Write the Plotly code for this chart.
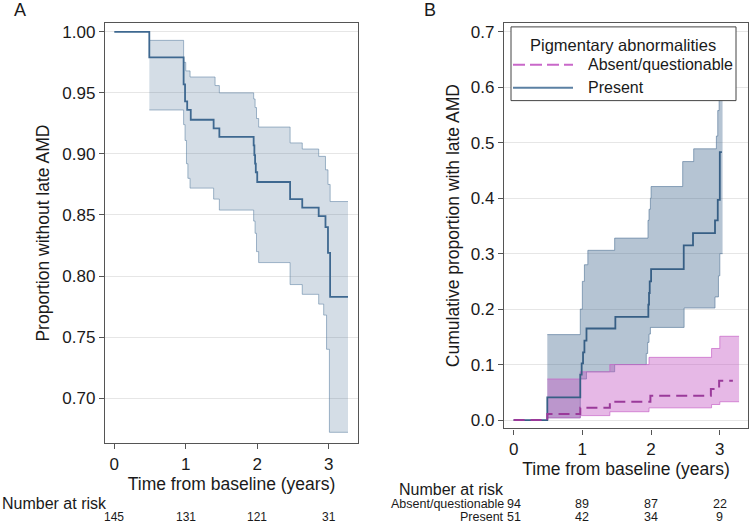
import plotly.graph_objects as go

W, H = 750, 525
FONT = "Arial"

# ---------------- Panel A data: overall Kaplan-Meier survival ----------------
a_time = [0, 0.49, 0.97, 0.99, 1.02, 1.07, 1.39, 1.47, 1.95, 1.96, 1.97, 1.98, 2.0,
          2.46, 2.63, 2.86, 2.955, 2.99, 3.02, 3.27]
a_surv = [1.0, 0.979, 0.957, 0.943, 0.936, 0.928, 0.921, 0.914, 0.907, 0.899, 0.892,
          0.885, 0.877, 0.863, 0.856, 0.849, 0.840, 0.819, 0.783, 0.783]
a_up_time = [0.49, 0.97, 1.0, 1.06, 1.41, 1.47, 1.95, 1.97, 1.99, 2.02, 2.46, 2.63,
             2.86, 2.955, 2.99, 3.02, 3.27]
a_up = [0.993, 0.975, 0.968, 0.963, 0.956, 0.950, 0.945, 0.938, 0.929, 0.922, 0.909,
        0.904, 0.898, 0.887, 0.875, 0.861, 0.861]
a_lo_time = [0.49, 0.97, 0.99, 1.01, 1.03, 1.06, 1.39, 1.47, 1.95, 1.97, 1.99, 2.02,
             2.46, 2.63, 2.86, 2.93, 2.97, 3.01, 3.27]
a_lo = [0.936, 0.924, 0.911, 0.892, 0.880, 0.872, 0.863, 0.854, 0.845, 0.835, 0.820,
        0.811, 0.793, 0.785, 0.777, 0.768, 0.740, 0.672, 0.672]

# ---------------- Panel B data: cumulative incidence by pigmentary abnormalities ----
pres_time = [0, 0.49, 0.97, 0.99, 1.01, 1.03, 1.06, 1.48, 1.96, 1.97, 1.98, 2.0,
             2.475, 2.61, 2.93, 2.97, 3.0, 3.03]
pres_cum = [0, 0.041, 0.082, 0.102, 0.122, 0.143, 0.165, 0.186, 0.208, 0.229, 0.25,
            0.272, 0.315, 0.337, 0.36, 0.397, 0.483, 0.483]
pres_up_time = [0.49, 0.97, 1.0, 1.03, 1.08, 1.47, 1.955, 1.97, 1.99, 2.0, 2.46, 2.62,
                2.95, 2.97, 2.99, 3.0, 3.04]
pres_up = [0.154, 0.2, 0.25, 0.28, 0.306, 0.328, 0.36, 0.38, 0.40, 0.421, 0.466, 0.489,
           0.512, 0.558, 0.58, 0.65, 0.65]
pres_lo_time = [0.49, 0.97, 1.06, 1.47, 1.93, 1.95, 1.97, 1.99, 2.48, 2.93, 2.98, 3.0, 3.04]
pres_lo = [0.004, 0.074, 0.087, 0.1, 0.12, 0.14, 0.155, 0.167, 0.202, 0.222, 0.26, 0.30, 0.30]

abs_time = [0, 0.49, 0.97, 1.4, 1.99, 2.87, 2.99, 3.19]
abs_cum = [0, 0.011, 0.022, 0.033, 0.044, 0.056, 0.071, 0.071]
abs_up_time = [0.49, 0.97, 1.4, 1.97, 2.88, 3.0, 3.28]
abs_up = [0.074, 0.087, 0.1, 0.113, 0.129, 0.151, 0.151]
abs_lo_time = [0.49, 0.97, 1.4, 1.97, 2.88, 3.0, 3.28]
abs_lo = [0.004, 0.008, 0.015, 0.022, 0.028, 0.033, 0.033]

# ---------------- Number at risk ----------------
risk_times = [0, 1, 2, 3]
risk_all = [145, 131, 121, 31]
risk_absent = [94, 89, 87, 22]
risk_present = [51, 42, 34, 9]

A_TICKS = [0.70, 0.75, 0.80, 0.85, 0.90, 0.95, 1.00]
B_TICKS = [0.0, 0.1, 0.2, 0.3, 0.4, 0.5, 0.6, 0.7]
X_TICKS = [0, 1, 2, 3]


def px(x):
    return x / W


def py(y):
    return 1 - y / H


fig = go.Figure()


def band(t_lo, lo, t_up, up, fillcol, edgecol, xa, ya):
    fig.add_trace(go.Scatter(x=t_lo, y=lo, mode="lines", line=dict(color=edgecol, width=1, shape="hv"),
                             xaxis=xa, yaxis=ya, showlegend=False, hoverinfo="skip"))
    fig.add_trace(go.Scatter(x=t_up, y=up, mode="lines", line=dict(color=edgecol, width=1, shape="hv"),
                             fill="tonexty", fillcolor=fillcol,
                             xaxis=xa, yaxis=ya, showlegend=False, hoverinfo="skip"))


# Panel A
band(a_lo_time, a_lo, a_up_time, a_up, "rgba(60,100,140,0.22)", "rgba(90,125,160,0.55)", "x", "y")
fig.add_trace(go.Scatter(x=a_time, y=a_surv, mode="lines",
                         line=dict(color="#3e6890", width=1.8, shape="hv"),
                         xaxis="x", yaxis="y", showlegend=False))

# Panel B
band(pres_lo_time, pres_lo, pres_up_time, pres_up, "rgba(60,100,140,0.38)", "rgba(80,115,150,0.6)", "x2", "y2")
band(abs_lo_time, abs_lo, abs_up_time, abs_up, "rgba(195,85,195,0.42)", "rgba(200,100,200,0.7)", "x2", "y2")
fig.add_trace(go.Scatter(x=pres_time, y=pres_cum, mode="lines", name="Present",
                         line=dict(color="#375f85", width=1.8, shape="hv"),
                         xaxis="x2", yaxis="y2", showlegend=False))
fig.add_trace(go.Scatter(x=abs_time, y=abs_cum, mode="lines", name="Absent/questionable",
                         line=dict(color="#9a3a9a", width=2, shape="hv", dash="11px,6px"),
                         xaxis="x2", yaxis="y2", showlegend=False))

axis_common = dict(showline=True, mirror=True, linecolor="#555555", linewidth=1.3,
                   ticks="outside", ticklen=5, tickcolor="#555555", tickwidth=1,
                   zeroline=False, tickfont=dict(family=FONT, size=17, color="#1a1a1a"))

fig.update_layout(
    width=W, height=H, margin=dict(l=0, r=0, t=0, b=0),
    paper_bgcolor="white", plot_bgcolor="white",
    font=dict(family=FONT, color="#1a1a1a"),
    xaxis=dict(domain=[px(105), px(358)], range=[-0.13, 3.41], tickvals=X_TICKS,
               showgrid=False, anchor="y",
               title=dict(text="Time from baseline (years)", font=dict(size=17.5), standoff=0),
               **axis_common),
    yaxis=dict(domain=[py(445), py(23)], range=[0.663, 1.0073], tickvals=A_TICKS,
               tickformat=".2f", showgrid=True, gridcolor="#e6e6e6", anchor="x",
               title=dict(text="Proportion without late AMD", font=dict(size=17.5), standoff=8),
               **axis_common),
    xaxis2=dict(domain=[px(504), px(748)], range=[-0.14, 3.41], tickvals=X_TICKS,
                showgrid=False, anchor="y2",
                title=dict(text="Time from baseline (years)", font=dict(size=17.5), standoff=0),
                **axis_common),
    yaxis2=dict(domain=[py(430), py(23)], range=[-0.015, 0.716], tickvals=B_TICKS,
                tickformat=".1f", showgrid=True, gridcolor="#e6e6e6", anchor="x2",
                title=dict(text="Cumulative proportion with late AMD", font=dict(size=17.5), standoff=6),
                **axis_common),
)

# Legend box for panel B (drawn above the data)
shapes = [
    dict(type="rect", xref="paper", yref="paper", x0=px(511), x1=px(736), y0=py(101), y1=py(27),
         line=dict(color="#444444", width=1), fillcolor="white", layer="above"),
    dict(type="line", xref="paper", yref="paper", x0=px(513), x1=px(573), y0=py(65), y1=py(65),
         line=dict(color="#c968c9", width=2, dash="12px,5px"), layer="above"),
    dict(type="line", xref="paper", yref="paper", x0=px(513), x1=px(573), y0=py(88), y1=py(88),
         line=dict(color="#5b80a3", width=2), layer="above"),
]
fig.update_layout(shapes=shapes)

ann = []
ann.append(dict(text="Pigmentary abnormalities", x=px(623), y=py(45), xref="paper", yref="paper",
                showarrow=False, xanchor="center", yanchor="middle", font=dict(size=16.5)))
ann.append(dict(text="Absent/questionable", x=px(586), y=py(65), xref="paper", yref="paper",
                showarrow=False, xanchor="left", yanchor="middle", font=dict(size=16)))
ann.append(dict(text="Present", x=px(586), y=py(88), xref="paper", yref="paper",
                showarrow=False, xanchor="left", yanchor="middle", font=dict(size=16)))

# Panel letters
ann.append(dict(text="A", x=px(20), y=py(10), xref="paper", yref="paper", showarrow=False,
                xanchor="center", yanchor="middle", font=dict(size=18)))
ann.append(dict(text="B", x=px(430), y=py(10), xref="paper", yref="paper", showarrow=False,
                xanchor="center", yanchor="middle", font=dict(size=18)))

# Number at risk tables
ann.append(dict(text="Number at risk", x=0, y=py(505), xref="paper", yref="paper", showarrow=False,
                xanchor="left", yanchor="middle", font=dict(size=16)))
for t, n in zip(risk_times, risk_all):
    ann.append(dict(text=str(n), x=t, y=py(519), xref="x", yref="paper", showarrow=False,
                    xanchor="center", yanchor="middle", font=dict(size=12)))

ann.append(dict(text="Number at risk", x=px(451.5), y=py(491), xref="paper", yref="paper",
                showarrow=False, xanchor="center", yanchor="middle", font=dict(size=16)))
ann.append(dict(text="Absent/questionable", x=px(506), y=py(506), xref="paper", yref="paper",
                showarrow=False, xanchor="right", yanchor="middle", font=dict(size=12.5)))
ann.append(dict(text="Present", x=px(506), y=py(519), xref="paper", yref="paper",
                showarrow=False, xanchor="right", yanchor="middle", font=dict(size=12.5)))
for t, n1, n2 in zip(risk_times, risk_absent, risk_present):
    ann.append(dict(text=str(n1), x=t, y=py(506), xref="x2", yref="paper", showarrow=False,
                    xanchor="center", yanchor="middle", font=dict(size=12.5)))
    ann.append(dict(text=str(n2), x=t, y=py(519), xref="x2", yref="paper", showarrow=False,
                    xanchor="center", yanchor="middle", font=dict(size=12.5)))

fig.update_layout(annotations=ann)

fig.write_html("out.html", config={"displayModeBar": False},
               post_script="document.body.style.margin='0';document.body.style.overflow='hidden';")
